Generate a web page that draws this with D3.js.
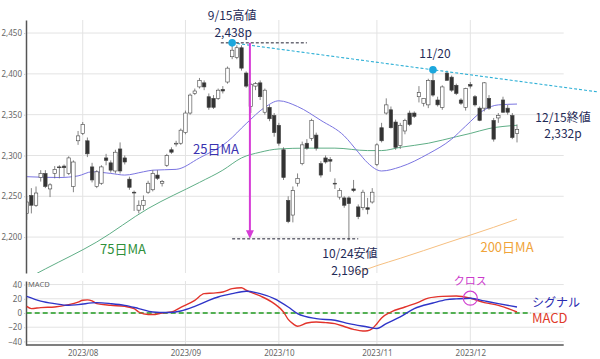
<!DOCTYPE html>
<html>
<head>
<meta charset="utf-8">
<script src="https://cdn.jsdelivr.net/npm/d3@7"></script>
<style>
  body { margin: 0; background: #fff; }
  svg { display: block; font-family: "Noto Sans CJK JP", "Noto Sans", sans-serif; }
  .axis text { fill: #666; font-size: 8px; }
</style>
</head>
<body>
<svg id="chart"></svg>
<script>
// trading days shown on the chart (TOPIX daily)
const dates = [
  "7/13","7/14","7/18","7/19","7/20","7/21","7/24","7/25","7/26","7/27","7/28","7/31",
  "8/1","8/2","8/3","8/4","8/7","8/8","8/9","8/10","8/14","8/15","8/16","8/17","8/18","8/21","8/22","8/23","8/24","8/25","8/28","8/29","8/30","8/31",
  "9/1","9/4","9/5","9/6","9/7","9/8","9/11","9/12","9/13","9/14","9/15","9/19","9/20","9/21","9/22","9/25","9/26","9/27","9/28","9/29",
  "10/2","10/3","10/4","10/5","10/6","10/10","10/11","10/12","10/13","10/16","10/17","10/18","10/19","10/20","10/23","10/24","10/25","10/26","10/27","10/30","10/31",
  "11/1","11/2","11/6","11/7","11/8","11/9","11/10","11/13","11/14","11/15","11/16","11/17","11/20","11/21","11/22","11/24","11/27","11/28","11/29","11/30",
  "12/1","12/4","12/5","12/6","12/7","12/8","12/11","12/12","12/13","12/14","12/15"
];
// empty days on the right side of the axis
const blankDates = ["12/18","12/19","12/20","12/21","12/22","12/25","12/26","12/27","12/28","12/29"];

const open = [
  2229,2251,2239,2273,2278,2259,2278,2286,2287,2278,2262,2318,
  2327,2318,2286,2262,2266,2297,2291,2281,2308,2297,2271,2255,2233,2239,2255,2258,2276,2266,2288,2307,2314,2315,
  2328,2352,2376,2384,2389,2372,2370,2370,2381,2390,2421,2420,2432,2401,2360,2385,2389,2353,2359,2349,
  2337,2307,2245,2227,2266,2290,2315,2321,2325,2290,2297,2295,2266,2249,2248,2248,2259,2237,2236,2236,2243,
  2289,2334,2352,2356,2341,2312,2330,2352,2352,2372,2364,2362,2392,2368,2359,2401,2396,2386,2368,2359,
  2387,2372,2358,2358,2370,2343,2346,2368,2358,2349,2327
];
const high = [
  2250,2260,2262,2282,2282,2266,2287,2288,2289,2299,2294,2330,
  2341,2322,2291,2282,2288,2302,2294,2307,2316,2300,2274,2257,2245,2251,2269,2282,2282,2270,2302,2310,2318,2333,
  2355,2376,2382,2395,2392,2376,2374,2382,2385,2409,2438,2435,2435,2403,2389,2390,2392,2382,2362,2352,
  2340,2310,2250,2262,2278,2317,2320,2345,2328,2293,2300,2298,2272,2260,2250,2250,2270,2240,2258,2248,2260,
  2315,2340,2370,2360,2344,2340,2345,2355,2354,2385,2370,2394,2405,2372,2386,2404,2398,2388,2370,2383,
  2390,2374,2360,2390,2374,2346,2352,2372,2362,2352,2338
];
const low = [
  2221,2229,2237,2268,2260,2249,2272,2272,2274,2276,2255,2313,
  2325,2298,2267,2260,2264,2288,2279,2278,2278,2289,2258,2232,2229,2233,2253,2256,2270,2262,2286,2302,2311,2313,
  2326,2350,2374,2382,2380,2356,2357,2368,2376,2388,2418,2418,2404,2383,2352,2380,2368,2350,2342,2323,
  2312,2270,2217,2218,2262,2288,2307,2318,2306,2273,2290,2280,2259,2246,2236,2196,2255,2222,2233,2228,2241,
  2287,2316,2350,2333,2307,2308,2326,2336,2346,2365,2360,2358,2372,2360,2356,2392,2378,2374,2362,2355,
  2382,2360,2342,2354,2356,2317,2340,2352,2350,2320,2316
];
const close = [
  2243,2239,2254,2278,2262,2264,2283,2285,2285,2297,2292,2324,
  2338,2302,2270,2280,2286,2294,2282,2304,2281,2292,2261,2254,2239,2245,2266,2278,2272,2268,2300,2304,2315,2331,
  2352,2374,2379,2392,2384,2359,2359,2380,2379,2407,2429,2432,2407,2385,2387,2388,2372,2380,2345,2328,
  2315,2273,2219,2257,2272,2313,2309,2343,2309,2276,2292,2293,2265,2257,2239,2241,2257,2225,2255,2234,2255,
  2313,2318,2362,2334,2310,2337,2343,2338,2348,2377,2370,2392,2374,2362,2384,2392,2380,2376,2364,2382,
  2385,2362,2343,2389,2358,2320,2349,2353,2353,2322,2332
];

// moving averages, read at selected days
const ma25Dates = ["7/13","7/25","7/31","8/3","8/9","8/15","8/21","8/23","8/30","9/6","9/14","9/21","9/27","10/2","10/6","10/16","10/23","10/26","10/30","11/2","11/9","11/17","11/27","11/30","12/6","12/11","12/15"];
const ma25Values = [2274,2273,2275,2280,2278,2276,2280,2282,2283,2297,2317,2339,2359,2367,2360,2343,2324,2304,2291,2281,2286,2302,2320,2336,2356,2362,2363];

const ma75Dates = ["7/13","7/20","8/4","8/22","9/6","9/13","9/20","9/26","10/2","10/11","10/19","10/30","11/2","11/9","11/17","11/28","12/1","12/7","12/15"];
const ma75Values = [2149,2161,2194,2235,2267,2282,2297,2304,2308,2309,2309,2306,2306,2310,2315,2323,2327,2333,2337];

const ma200Dates = ["10/19","11/1","11/9","11/24","12/8","12/15"];
const ma200Values = [2146,2165,2174,2193,2212,2222];

// MACD panel
const macdDates = ["7/13","7/14","7/19","7/24","7/27","7/31","8/1","8/2","8/3","8/4","8/9","8/15","8/17","8/18","8/22","8/23","8/25","8/29","8/31","9/5","9/7","9/11","9/13","9/15","9/20","9/21","9/26","9/29","10/3","10/4","10/5","10/6","10/11","10/13","10/17","10/19","10/23","10/25","10/27","10/30","10/31","11/1","11/2","11/7","11/10","11/15","11/17","11/22","11/28","12/1","12/6","12/11","12/15"];
const macdValues = [9.4,6.2,7.6,8.4,11.8,15.4,18,18.5,17,13.2,10.8,9.4,6.2,1.4,-2.2,-2.2,0,1.4,8,17.8,27.2,28,29.5,34.2,35.6,32,24,13.2,1.4,-9,-15,-18.7,-14,-12.6,-13.5,-15,-19,-23,-25.3,-25,-22,-15,-7,1.4,8.4,15.4,21,23.4,23.9,20.8,14.6,10.8,1.4];

const signalDates = ["7/13","7/19","7/24","7/27","7/31","8/4","8/9","8/15","8/18","8/23","8/28","8/31","9/5","9/8","9/12","9/15","9/21","9/26","9/29","10/4","10/6","10/13","10/19","10/24","10/30","11/1","11/6","11/9","11/14","11/20","11/24","11/28","12/1","12/6","12/11","12/15"];
const signalValues = [23.4,16.8,13.2,10.8,11.8,14.6,13.2,10.8,6.2,1.4,0.6,2.8,9.4,17.8,22.5,27.2,30.5,27.2,20.2,8.4,-0.8,-7.9,-10.2,-14.9,-19.6,-21.9,-14.9,-5.6,6.2,14,18.8,19.8,20.8,17,13.2,8.4];

// axes
const priceTicks = [2200, 2250, 2300, 2350, 2400, 2450];
const macdTicks = [-40, -20, 0, 20, 40];
const monthTicks = ["8/1", "9/1", "10/2", "11/1", "12/1"];
const monthLabels = ["2023/08", "2023/09", "2023/10", "2023/11", "2023/12"];

// annotated points
const highPoint = ["9/15", 2438];
const peakPoint = ["11/20", 2405];
const lowPoint = ["10/24", 2196];
const lastPoint = ["12/15", 2332];
const crossPoint = ["12/1", 20.8];

let config = { svg: {}, plot: {}, macd: {} };
config.svg.width = 600;
config.svg.height = 359;
config.plot.axisX = 26;
config.plot.left = 26.7;
config.plot.right = 563.7;
config.plot.top = 20;
config.plot.bottom = 273;
config.macd.top = 281;
config.macd.bottom = 345;

let svg = d3.select("svg#chart")
  .attr("width", config.svg.width)
  .attr("height", config.svg.height);

let scale = {};
scale.x = d3.scalePoint()
  .domain(dates.concat(blankDates))
  .range([config.plot.left, config.plot.right]);
scale.y = d3.scaleLinear()
  .domain([2156, 2466])
  .range([config.plot.bottom, config.plot.top]);
scale.m = d3.scaleLinear()
  .domain([-45, 45])
  .range([config.macd.bottom, config.macd.top]);

let step = scale.x.step();

svg.append("defs").append("clipPath")
  .attr("id", "clip-main")
  .append("rect")
  .attr("x", config.plot.axisX)
  .attr("y", config.plot.top)
  .attr("width", config.plot.right - config.plot.axisX)
  .attr("height", config.plot.bottom - config.plot.top);

// grid lines
let grid = svg.append("g").attr("id", "grid").attr("stroke", "#e3e3e3").attr("stroke-width", 1);

grid.selectAll("line.price")
  .data(priceTicks)
  .enter()
  .append("line")
  .attr("x1", config.plot.axisX)
  .attr("x2", config.plot.right)
  .attr("y1", d => scale.y(d))
  .attr("y2", d => scale.y(d));

grid.selectAll("line.macd")
  .data(macdTicks)
  .enter()
  .append("line")
  .attr("x1", config.plot.axisX)
  .attr("x2", config.plot.right)
  .attr("y1", d => scale.m(d))
  .attr("y2", d => scale.m(d));

grid.selectAll("line.month")
  .data(monthTicks)
  .enter()
  .append("line")
  .attr("x1", d => scale.x(d))
  .attr("x2", d => scale.x(d))
  .attr("y1", config.plot.top)
  .attr("y2", config.plot.bottom);

grid.selectAll("line.monthm")
  .data(monthTicks)
  .enter()
  .append("line")
  .attr("x1", d => scale.x(d))
  .attr("x2", d => scale.x(d))
  .attr("y1", config.macd.top)
  .attr("y2", config.macd.bottom);

// moving averages
let plot = svg.append("g").attr("id", "plot").attr("clip-path", "url(#clip-main)");

function maLine(ds, vs, color) {
  let line = d3.line()
    .x((d, i) => scale.x(ds[i]))
    .y(d => scale.y(d))
    .curve(d3.curveMonotoneX);
  plot.append("path")
    .attr("d", line(vs))
    .attr("fill", "none")
    .attr("stroke", color)
    .attr("stroke-width", 1);
}

maLine(ma200Dates, ma200Values, "#f6bf80");
maLine(ma75Dates, ma75Values, "#5fae86");
maLine(ma25Dates, ma25Values, "#7a74e0");

// candles
let ohlc = dates.map((d, i) => ({ date: d, o: open[i], h: high[i], l: low[i], c: close[i] }));
let bodyWidth = step * 0.74;

let candles = plot.selectAll("g.candle")
  .data(ohlc)
  .enter()
  .append("g")
  .attr("class", "candle");

candles.append("line")
  .attr("x1", d => scale.x(d.date))
  .attr("x2", d => scale.x(d.date))
  .attr("y1", d => scale.y(d.h))
  .attr("y2", d => scale.y(d.l))
  .attr("stroke", "#666")
  .attr("stroke-width", 0.8);

candles.append("rect")
  .attr("x", d => scale.x(d.date) - bodyWidth / 2)
  .attr("y", d => scale.y(Math.max(d.o, d.c)))
  .attr("width", bodyWidth)
  .attr("height", d => Math.max(0.8, Math.abs(scale.y(d.o) - scale.y(d.c))))
  .attr("fill", d => d.c >= d.o ? "#fff" : "#333")
  .attr("stroke", "#444")
  .attr("stroke-width", 0.6);

// axes
let axis = {};
axis.y = d3.axisLeft(scale.y)
  .tickValues(priceTicks)
  .tickFormat(d3.format(","))
  .tickSize(2)
  .tickPadding(2)
  .tickSizeOuter(0);

axis.m = d3.axisLeft(scale.m)
  .tickValues(macdTicks)
  .tickSize(2)
  .tickPadding(2)
  .tickSizeOuter(0);

axis.x = d3.axisBottom(scale.x)
  .tickValues(monthTicks)
  .tickFormat((d, i) => monthLabels[i])
  .tickSize(0)
  .tickPadding(5)
  .tickSizeOuter(0);

let gy = svg.append("g")
  .attr("class", "axis")
  .attr("transform", translate(config.plot.axisX, 0))
  .call(axis.y);

let gm = svg.append("g")
  .attr("class", "axis")
  .attr("transform", translate(config.plot.axisX, 0))
  .call(axis.m);

let gx = svg.append("g")
  .attr("class", "axis")
  .attr("transform", translate(0, config.macd.bottom))
  .call(axis.x);

svg.selectAll(".axis text").attr("font-family", "Noto Sans");
svg.selectAll(".axis .tick line").attr("stroke", "#ccc");
gy.select(".domain").attr("stroke", "#555").attr("stroke-width", 1.5);
gm.select(".domain").attr("stroke", "#555").attr("stroke-width", 1.5);
gx.select(".domain").attr("stroke", "#555").attr("stroke-width", 1.5)
  .attr("d", "M" + config.plot.axisX + ",0H" + config.plot.right);

svg.append("text")
  .text("MACD")
  .attr("x", config.plot.axisX + 2)
  .attr("y", scale.m(37))
  .attr("font-size", "7.5px")
  .attr("font-family", "Noto Sans")
  .attr("fill", "#666");

// MACD lines
svg.append("line")
  .attr("x1", scale.x(dates[0]))
  .attr("x2", scale.x(blankDates[2]))
  .attr("y1", scale.m(0))
  .attr("y2", scale.m(0))
  .attr("stroke", "#1f9a1f")
  .attr("stroke-width", 1.6)
  .attr("stroke-dasharray", "5,3");

function macdLine(ds, vs, color) {
  let line = d3.line()
    .x((d, i) => scale.x(ds[i]))
    .y(d => scale.m(d))
    .curve(d3.curveMonotoneX);
  svg.append("path")
    .attr("d", line(vs))
    .attr("fill", "none")
    .attr("stroke", color)
    .attr("stroke-width", 1.4);
}

macdLine(macdDates, macdValues, "#e2332b");
macdLine(signalDates, signalValues, "#2f35c8");

svg.append("circle")
  .attr("cx", scale.x(crossPoint[0]))
  .attr("cy", scale.m(crossPoint[1]))
  .attr("r", 7)
  .attr("fill", "none")
  .attr("stroke", "#d03fd0")
  .attr("stroke-width", 1.2);

// annotations
let note = svg.append("g").attr("id", "notes");

// trend line through the two highs
let trendScale = d3.scaleLinear()
  .domain([scale.x(highPoint[0]), scale.x(peakPoint[0])])
  .range([scale.y(highPoint[1]), scale.y(peakPoint[1])]);

note.append("line")
  .attr("x1", scale.x(highPoint[0]))
  .attr("y1", scale.y(highPoint[1]))
  .attr("x2", 598)
  .attr("y2", trendScale(598))
  .attr("stroke", "#2fb0d6")
  .attr("stroke-width", 1.1)
  .attr("stroke-dasharray", "3,2");

note.append("line")
  .attr("x1", scale.x("9/13") - 2)
  .attr("x2", scale.x("10/11"))
  .attr("y1", scale.y(highPoint[1]))
  .attr("y2", scale.y(highPoint[1]))
  .attr("stroke", "#223")
  .attr("stroke-width", 1)
  .attr("stroke-dasharray", "3,2");

note.append("line")
  .attr("x1", scale.x("9/15"))
  .attr("x2", scale.x("10/26"))
  .attr("y1", scale.y(lowPoint[1]) - 1.5)
  .attr("y2", scale.y(lowPoint[1]) - 1.5)
  .attr("stroke", "#223")
  .attr("stroke-width", 1)
  .attr("stroke-dasharray", "3,2");

// fall arrow
let arrowX = scale.x("9/21") + step * 0.8;
note.append("line")
  .attr("x1", arrowX)
  .attr("x2", arrowX)
  .attr("y1", scale.y(highPoint[1]))
  .attr("y2", scale.y(lowPoint[1]) - 8)
  .attr("stroke", "#d63cd6")
  .attr("stroke-width", 2);

note.append("path")
  .attr("d", "M" + (arrowX - 4) + "," + (scale.y(lowPoint[1]) - 10) +
    "L" + (arrowX + 4) + "," + (scale.y(lowPoint[1]) - 10) +
    "L" + arrowX + "," + (scale.y(lowPoint[1]) - 1.5) + "Z")
  .attr("fill", "#d63cd6");

note.selectAll("circle")
  .data([highPoint, peakPoint])
  .enter()
  .append("circle")
  .attr("cx", d => scale.x(d[0]))
  .attr("cy", d => scale.y(d[1]))
  .attr("r", 3.8)
  .attr("fill", "#1ca7dd");

function label(text, x, y, color, size, anchor) {
  note.append("text")
    .text(text)
    .attr("x", x)
    .attr("y", y)
    .attr("fill", color)
    .attr("font-size", size + "px")
    .attr("text-anchor", anchor || "middle");
}

let navy = "#1f2b57";
label("9/15高値", scale.x(highPoint[0]), scale.y(highPoint[1]) - 23, navy, 12);
label("2,438p", scale.x(highPoint[0]) + 1, scale.y(highPoint[1]) - 6, navy, 12);
label("11/20", scale.x(peakPoint[0]) + 2, scale.y(peakPoint[1]) - 12, navy, 12);
label("10/24安値", scale.x(lowPoint[0]) + 1, scale.y(lowPoint[1]) + 18, navy, 12);
label("2,196p", scale.x(lowPoint[0]) + 1, scale.y(lowPoint[1]) + 35, navy, 12);
label("12/15終値", scale.x(lastPoint[0]) + 46, scale.y(lastPoint[1]) - 7, navy, 12);
label("2,332p", scale.x(lastPoint[0]) + 46, scale.y(lastPoint[1]) + 9, navy, 12);

label("25日MA", 216, 153.5, "#3a32b0", 13);
label("75日MA", 123, 253.5, "#2f8f3a", 13);
label("200日MA", 507, 251.5, "#f0a43a", 13);

label("クロス", scale.x(crossPoint[0]), scale.m(crossPoint[1]) - 13, "#cc3acc", 11);
label("シグナル", 532, 306.5, "#2a2ab0", 12, "start");
label("MACD", 532, 323, "#e03a2a", 13, "start");

function translate(x, y) {
  return 'translate(' + x + ',' + y + ')';
}
</script>
</body>
</html>
